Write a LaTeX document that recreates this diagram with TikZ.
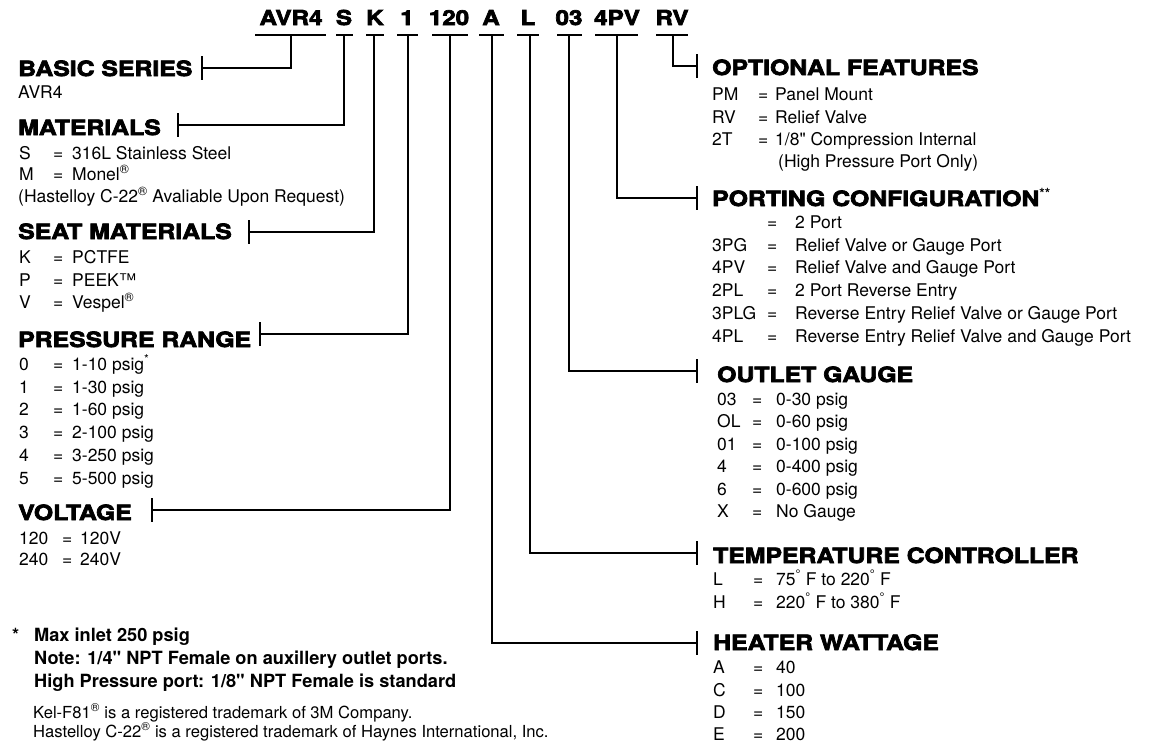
\documentclass[tikz,border=0pt]{standalone}
\usepackage{fontspec}
\usetikzlibrary{calc}
\setmainfont{TeX Gyre Heros}[Ligatures=TeXOff]
\newfontfamily\hdfont{TeX Gyre Heros}[BoldFeatures={FakeBold=3.4,FakeStretch=1.18}]
\newcommand\kvrow[7]{%
  \node[itm] (#1k) at (#3,#2) {#6};
  \node[itm] (#1e) at (#4,#2) {=};
  \node[itm] (#1v) at (#5,#2) {#7};}
\begin{document}
\begin{tikzpicture}[x=1pt,y=-1pt,
  hd/.style={anchor=base west, inner sep=0pt, font=\hdfont\bfseries\fontsize{21}{21}\selectfont},
  code/.style={anchor=base, inner sep=0pt, font=\hdfont\bfseries\fontsize{20.5}{20.5}\selectfont},
  itm/.style={anchor=base west, inner sep=0pt, font=\fontsize{17.5}{20}\selectfont},
  note/.style={anchor=base west, inner sep=0pt, font=\bfseries\fontsize{18.2}{20}\selectfont},
  tmk/.style={anchor=base west, inner sep=0pt, font=\fontsize{16.6}{18}\selectfont},
  conn/.style={line width=2pt},
  tck/.style={line width=2.5pt}]
\useasboundingbox (0,0) rectangle (1152,742);
% code row
\node[code] (cAVR) at (291,25) {AVR4};
\node[code] (cS) at (344,25) {S};
\node[code] (cK) at (375,25) {K};
\node[code] (c1) at (407,25) {1};
\node[code] (c120) at (449,25) {120};
\node[code] (cA) at (491,25) {A};
\node[code] (cL) at (528,25) {L};
\node[code] (c03) at (569,25) {03};
\node[code] (c4PV) at (617,25) {4PV};
\node[code] (cRV) at (672,25) {RV};
\foreach \a/\b in {255/326,336/353,366/384,397/418,432/468,479/504,517/539,557/582,595/638,656/688}
  \draw[conn] (\a,35) -- (\b,35);
% left headers
\node[hd] (hBS) at (18,76) {BASIC SERIES};
\node[itm] (iAVR) at (18,98) {AVR4};
\node[hd] (hMA) at (18,135) {MATERIALS};
\kvrow{ma1}{159}{19}{53}{72}{S}{316L Stainless Steel}
\kvrow{ma2}{180}{19}{53}{72}{M}{Monel\textsuperscript{®}}
\node[itm] (ma3) at (18,202) {(Hastelloy C-22\textsuperscript{®} Avaliable Upon Request)};
\node[hd] (hSM) at (18,239) {SEAT MATERIALS};
\kvrow{sm1}{263}{19}{53}{72}{K}{PCTFE}
\kvrow{sm2}{286}{19}{53}{72}{P}{PEEK™}
\kvrow{sm3}{308}{19}{53}{72}{V}{Vespel\textsuperscript{®}}
\node[hd] (hPR) at (18,347) {PRESSURE RANGE};
\kvrow{pr0}{370}{19}{53}{72}{0}{1-10 psig\textsuperscript{*}}
\kvrow{pr1}{393}{19}{53}{72}{1}{1-30 psig}
\kvrow{pr2}{415}{19}{53}{72}{2}{1-60 psig}
\kvrow{pr3}{438}{19}{53}{72}{3}{2-100 psig}
\kvrow{pr4}{461}{19}{53}{72}{4}{3-250 psig}
\kvrow{pr5}{484}{19}{53}{72}{5}{5-500 psig}
\node[hd] (hVO) at (18,520) {VOLTAGE};
\kvrow{vo1}{544}{19}{62}{80}{120}{120V}
\kvrow{vo2}{565}{19}{62}{80}{240}{240V}
% footnotes
\node[note] (nst) at (12,641) {*};
\node[note] (n1) at (34,641) {Max inlet 250 psig};
\node[note] (n2) at (34,664) {Note: 1/4" NPT Female on auxillery outlet ports.};
\node[note] (n3) at (34,687) {High Pressure port: 1/8" NPT Female is standard};
\node[tmk] (t1) at (33,718) {Kel-F81\textsuperscript{®} is a registered trademark of 3M Company.};
\node[tmk] (t2) at (33,737) {Hastelloy C-22\textsuperscript{®} is a registered trademark of Haynes International, Inc.};
% right headers
\node[hd] (hOF) at (712,75) {OPTIONAL FEATURES};
\kvrow{of1}{100}{712}{758}{775}{PM}{Panel Mount}
\kvrow{of2}{123}{712}{758}{775}{RV}{Relief Valve}
\kvrow{of3}{145}{712}{758}{775}{2T}{1/8" Compression Internal}
\node[itm] (of4) at (778,167) {(High Pressure Port Only)};
\node[hd] (hPC) at (712,206) {PORTING CONFIGURATION\textsuperscript{\normalfont\bfseries\fontsize{14}{14}\selectfont**}};
\node[itm] (pc0e) at (767,228) {=};
\node[itm] (pc0v) at (795,228) {2 Port};
\kvrow{pc1}{251}{712}{767}{795}{3PG}{Relief Valve or Gauge Port}
\kvrow{pc2}{273}{712}{767}{795}{4PV}{Relief Valve and Gauge Port}
\kvrow{pc3}{296}{712}{767}{795}{2PL}{2 Port Reverse Entry}
\kvrow{pc4}{319}{712}{767}{795}{3PLG}{Reverse Entry Relief Valve or Gauge Port}
\kvrow{pc5}{342}{712}{767}{795}{4PL}{Reverse Entry Relief Valve and Gauge Port}
\node[hd] (hOG) at (717,382) {OUTLET GAUGE};
\kvrow{og1}{405}{717}{752}{776}{03}{0-30 psig}
\kvrow{og2}{427}{717}{752}{776}{OL}{0-60 psig}
\kvrow{og3}{450}{717}{752}{776}{01}{0-100 psig}
\kvrow{og4}{472}{717}{752}{776}{4}{0-400 psig}
\kvrow{og5}{495}{717}{752}{776}{6}{0-600 psig}
\kvrow{og6}{517}{717}{752}{776}{X}{No Gauge}
\node[hd] (hTC) at (713,563) {TEMPERATURE CONTROLLER};
\kvrow{tc1}{585}{713}{753}{776}{L}{75\textsuperscript{°} F to 220\textsuperscript{°} F}
\kvrow{tc2}{608}{713}{753}{776}{H}{220\textsuperscript{°} F to 380\textsuperscript{°} F}
\node[hd] (hHW) at (713,650) {HEATER WATTAGE};
\kvrow{hw1}{673}{713}{753}{776}{A}{40}
\kvrow{hw2}{696}{713}{753}{776}{C}{100}
\kvrow{hw3}{718}{713}{753}{776}{D}{150}
\kvrow{hw4}{740}{713}{753}{776}{E}{200}
% connectors
\coordinate (dAVR) at (291,35); \coordinate (kBS) at (202,68);
\coordinate (dS) at (344,35);   \coordinate (kMA) at (178,125);
\coordinate (dK) at (374,35);   \coordinate (kSM) at (249,232);
\coordinate (d1) at (408,35);   \coordinate (kPR) at (260,334);
\coordinate (d120) at (450,35); \coordinate (kVO) at (152,510);
\coordinate (dA) at (492,35);   \coordinate (kHW) at (697,643);
\coordinate (dL) at (530,35);   \coordinate (kTC) at (697,553);
\coordinate (d03) at (569,35);  \coordinate (kOG) at (697,371);
\coordinate (d4PV) at (617,35); \coordinate (kPC) at (697,198);
\coordinate (dRV) at (673,35);  \coordinate (kOF) at (697,66);
\foreach \d/\k in {dAVR/kBS,dS/kMA,dK/kSM,d1/kPR,d120/kVO,dA/kHW,dL/kTC,d03/kOG,d4PV/kPC,dRV/kOF}
  \draw[conn] (\d) |- (\k);
\foreach \k in {kBS,kMA,kSM,kPR,kVO,kHW,kTC,kOG,kPC,kOF}
  \draw[tck] ($(\k)+(0,-12)$) -- ($(\k)+(0,12)$);
\end{tikzpicture}
\end{document}
